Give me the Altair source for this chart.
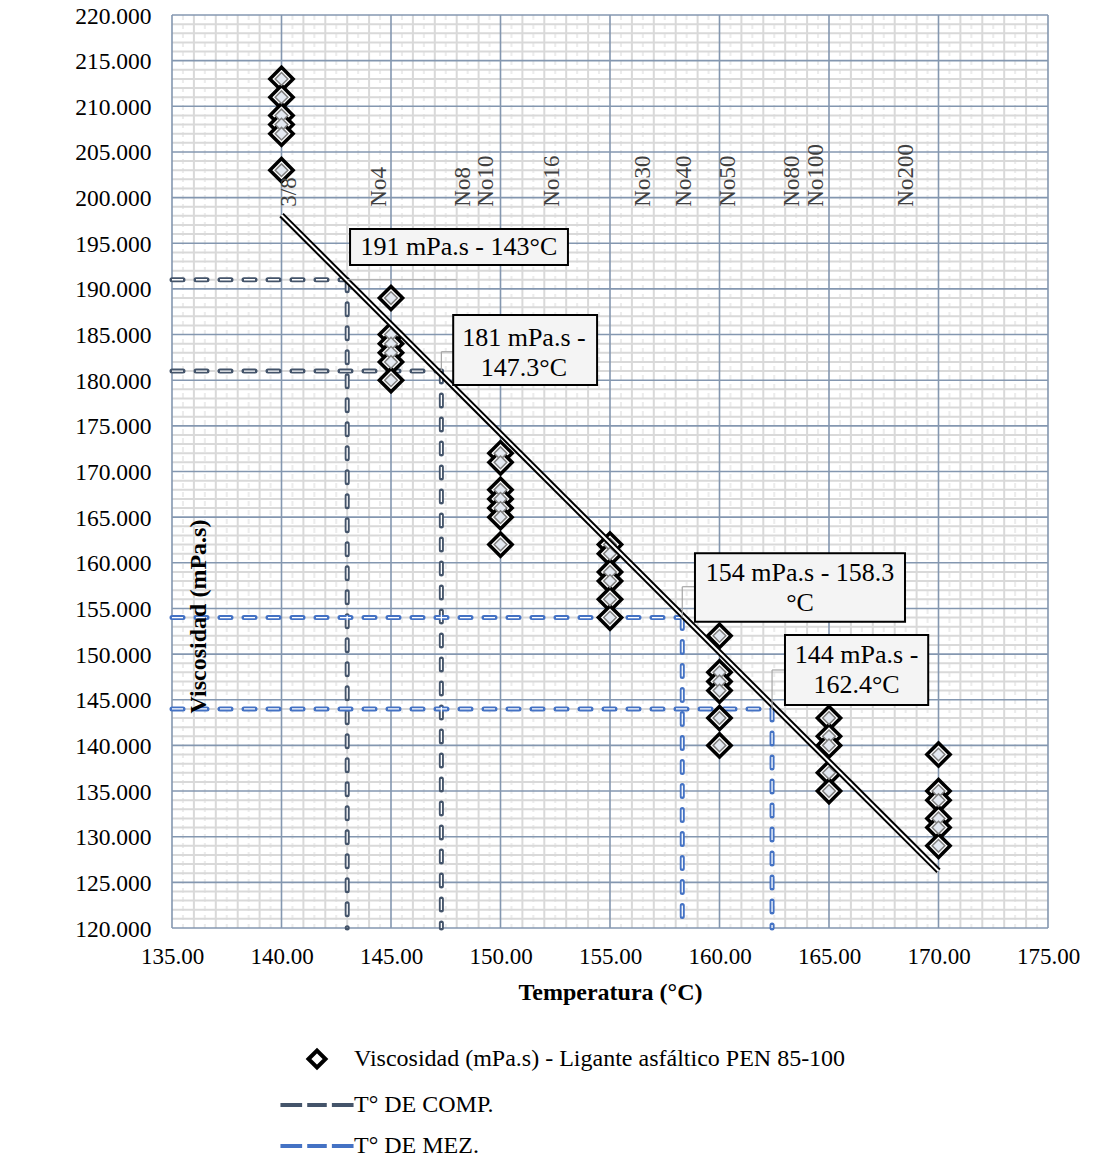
import altair as alt
import pandas as pd

# ---------------- data ----------------
temps = [140, 145, 150, 155, 160, 165, 170]
visc_140 = [213, 211, 209, 208, 207, 203]
visc_145 = [189, 185, 184, 183, 182, 180]
visc_150 = [172, 171, 168, 167, 166, 165, 162]
visc_155 = [162, 161, 159, 158, 156, 154]
visc_160 = [152, 148, 147, 146, 143, 140]
visc_165 = [143, 141, 140, 137, 135]
visc_170 = [139, 135, 134, 132, 131, 129]

series_names = [
    "Viscosidad (mPa.s) - Ligante asfáltico PEN 85-100",
    "T° DE COMP.",
    "T° DE MEZ.",
]

comp_temp = [143.0, 147.3]
comp_visc = [191, 181]
mez_temp = [158.3, 162.4]
mez_visc = [154, 144]

sieve_names = ["3/8", "No4", "No8", "No10", "No16", "No30", "No40", "No50", "No80", "No100", "No200"]
sieve_temps = [140.35, 144.45, 148.3, 149.35, 152.35, 156.5, 158.4, 160.4, 163.3, 164.4, 168.5]

callout_texts = [
    "191 mPa.s - 143°C",
    "181 mPa.s -\n147.3°C",
    "154 mPa.s - 158.3\n°C",
    "144 mPa.s -\n162.4°C",
]

x_major = [135, 140, 145, 150, 155, 160, 165, 170, 175]
y_major = [120, 125, 130, 135, 140, 145, 150, 155, 160, 165, 170, 175, 180, 185, 190, 195, 200, 205, 210, 215, 220]

# ---------------- layout of annotations (positions in data units) ----------------
X_MIN, X_MAX = x_major[0], x_major[-1]
Y_MIN, Y_MAX = y_major[0], y_major[-1]
sieve_base = 199.0
callout_boxes = [
    (143.13, 153.08, 196.56, 192.62),
    (147.84, 154.41, 187.14, 179.47),
    (158.88, 168.47, 161.04, 153.55),
    (162.99, 169.53, 152.09, 144.42),
]
# position of the first text line of each callout
callout_first_line = [(148.1, 194.62), (151.07, 184.62), (163.68, 158.88), (166.26, 149.9)]
leader_segments = [
    (143.0, 191.0, 148.0, 191.0),
    (147.3, 181.0, 147.3, 183.12), (147.3, 183.12, 147.84, 183.12),
    (158.3, 154.0, 158.3, 157.38), (158.3, 157.38, 158.88, 157.38),
    (162.4, 144.0, 162.4, 148.26), (162.4, 148.26, 162.99, 148.26),
]

# ---------------- tables ----------------
rows = []
for t, vals in zip(temps, [visc_140, visc_145, visc_150, visc_155, visc_160, visc_165, visc_170]):
    for v in vals:
        rows.append({"T": t, "V": v, "serie": series_names[0]})
points = pd.DataFrame(rows)

seg_rows = []
for name, ts, vs in [(series_names[1], comp_temp, comp_visc), (series_names[2], mez_temp, mez_visc)]:
    for t, v in zip(ts, vs):
        seg_rows.append({"serie": name, "x": X_MIN, "x2": t, "y": v, "y2": v})
        seg_rows.append({"serie": name, "x": t, "x2": t, "y": v, "y2": Y_MIN})
segs = pd.DataFrame(seg_rows)

sieves = pd.DataFrame({"name": sieve_names, "T": sieve_temps, "V": [sieve_base] * len(sieve_names)})

boxes = pd.DataFrame([
    {"x": b[0], "x2": b[1], "y": b[2], "y2": b[3], "x_c": c[0], "y_c": c[1], "label": txt}
    for b, c, txt in zip(callout_boxes, callout_first_line, callout_texts)
])
leaders = pd.DataFrame([{"x": s[0], "y": s[1], "x2": s[2], "y2": s[3]} for s in leader_segments])

# grid line positions
x_half = pd.DataFrame({"x": [X_MIN + i + 0.5 for i in range(X_MAX - X_MIN)]})
x_minor = pd.DataFrame({"x": [v for v in range(X_MIN, X_MAX + 1) if v not in x_major]})
y_minor = pd.DataFrame({"y": [v for v in range(Y_MIN, Y_MAX + 1) if v not in y_major]})
x_maj = pd.DataFrame({"x": x_major})
y_maj = pd.DataFrame({"y": y_major})

# ---------------- scales / axes ----------------
FONT = "Liberation Serif"
x_scale = alt.Scale(domain=[X_MIN, X_MAX], nice=False, zero=False)
y_scale = alt.Scale(domain=[Y_MIN, Y_MAX], nice=False, zero=False)

MAJOR = "#8497b0"
MINOR = "#d9d9d9"

x_axis = alt.Axis(
    values=x_major, format=".2f",
    title="Temperatura (°C)",
    titleFont=FONT, titleFontSize=24, titleFontWeight="bold", titleColor="black", titlePadding=12,
    labelFont=FONT, labelFontSize=23, labelColor="black", labelPadding=17,
    labelOverlap=False, labelFlush=False,
    ticks=False, domain=False, grid=False,
)
y_axis = alt.Axis(
    values=y_major, format=".3f",
    title="Viscosidad (mPa.s)",
    titleFont=FONT, titleFontSize=24, titleFontWeight="bold", titleColor="black",
    titleX=26, titleY=601, titleAngle=270, titleAlign="center", titleBaseline="middle",
    labelFont=FONT, labelFontSize=23.5, labelColor="black", labelPadding=21, labelOffset=1,
    labelOverlap=False, labelFlush=False,
    ticks=False, domain=False, grid=False, zindex=1,
)

dash_path = "M-4.3,0H-1.75M-1.15,0H1.15M1.75,0H4.3"
color_scale = alt.Scale(domain=series_names, range=["#000000", "#44546a", "#4472c4"])
shape_scale = alt.Scale(domain=series_names, range=["diamond", dash_path, dash_path])
legend = alt.Legend(
    orient="none", legendX=133, legendY=1032, direction="vertical", title=None,
    labelFont=FONT, labelFontSize=24, labelColor="black", labelLimit=800, labelOffset=25,
    symbolSize=289, symbolStrokeWidth=4, rowPadding=17, padding=0,
)

X = lambda f: alt.X(f, scale=x_scale)
Y = lambda f: alt.Y(f, scale=y_scale)

# ---------------- layers ----------------
# first layers carry the explicit axis definitions
grid_x_half = alt.Chart(x_half).mark_rule(stroke="#ececec", strokeWidth=2, strokeDash=[5, 4]).encode(
    x=alt.X("x:Q", scale=x_scale, axis=x_axis))
grid_x_minor = alt.Chart(x_minor).mark_rule(stroke=MINOR, strokeWidth=2).encode(x=X("x:Q"))
grid_y_minor = alt.Chart(y_minor).mark_rule(stroke=MINOR, strokeWidth=2).encode(
    y=alt.Y("y:Q", scale=y_scale, axis=y_axis))
grid_x_major = alt.Chart(x_maj).mark_rule(stroke=MAJOR, strokeWidth=1.6).encode(x=X("x:Q"))
grid_y_major = alt.Chart(y_maj).mark_rule(stroke=MAJOR, strokeWidth=1.6).encode(y=Y("y:Q"))

guides_outer = alt.Chart(segs).mark_rule(strokeWidth=5, strokeCap="round", strokeDash=[11, 13]).encode(
    x=X("x:Q"), x2="x2:Q", y=Y("y:Q"), y2="y2:Q",
    stroke=alt.Stroke("serie:N", scale=color_scale),
)
guides_inner = alt.Chart(segs).mark_rule(strokeWidth=1.3, stroke="white", strokeDash=[11, 13]).encode(
    x=X("x:Q"), x2="x2:Q", y=Y("y:Q"), y2="y2:Q",
)

pts_outer = alt.Chart(points).mark_point(filled=True, fill="white", strokeWidth=3.5, size=540, opacity=1).encode(
    x=X("T:Q"), y=Y("V:Q"),
    stroke=alt.Stroke("serie:N", scale=color_scale, legend=legend),
    shape=alt.Shape("serie:N", scale=shape_scale, legend=legend),
)
pts_inner = alt.Chart(points).mark_point(shape="diamond", filled=True, fill="#e4e9f1", stroke="#7f7f7f",
                                         strokeWidth=1.5, size=160, opacity=1).encode(
    x=X("T:Q"), y=Y("V:Q"),
)

trend_outer = alt.Chart(points).transform_regression("T", "V", extent=[140, 170]).mark_line(
    color="black", strokeWidth=6).encode(x=X("T:Q"), y=Y("V:Q"))
trend_inner = alt.Chart(points).transform_regression("T", "V", extent=[140, 170]).mark_line(
    color="white", strokeWidth=2).encode(x=X("T:Q"), y=Y("V:Q"))

sieve_text = alt.Chart(sieves).mark_text(angle=270, align="left", baseline="middle", font=FONT,
                                         fontSize=23, color="#404040").encode(
    x=X("T:Q"), y=Y("V:Q"), text="name:N")

leader_lines = alt.Chart(leaders).mark_rule(stroke="#a6a6a6", strokeWidth=1.2).encode(
    x=X("x:Q"), x2="x2:Q", y=Y("y:Q"), y2="y2:Q")

box_rects = alt.Chart(boxes).mark_rect(fill="#f4f4f4", stroke="black", strokeWidth=2).encode(
    x=X("x:Q"), x2="x2:Q", y=Y("y:Q"), y2="y2:Q")
box_text = alt.Chart(boxes).mark_text(font=FONT, fontSize=26, color="black", align="center",
                                      baseline="middle", lineBreak="\n", lineHeight=30).encode(
    x=X("x_c:Q"), y=Y("y_c:Q"), text="label:N")

chart = alt.layer(
    grid_x_half, grid_x_minor, grid_y_minor, grid_x_major, grid_y_major,
    guides_outer, guides_inner, pts_outer, pts_inner, trend_outer, trend_inner,
    sieve_text, leader_lines, box_rects, box_text,
).properties(
    width=876, height=913,
    padding={"left": 164, "top": 7, "right": 48, "bottom": 235},
    autosize=alt.AutoSizeParams(type="none"),
).configure(font=FONT, background="white").configure_view(strokeWidth=0)

chart.save("out.html", embed_options={"renderer": "svg", "actions": False})
